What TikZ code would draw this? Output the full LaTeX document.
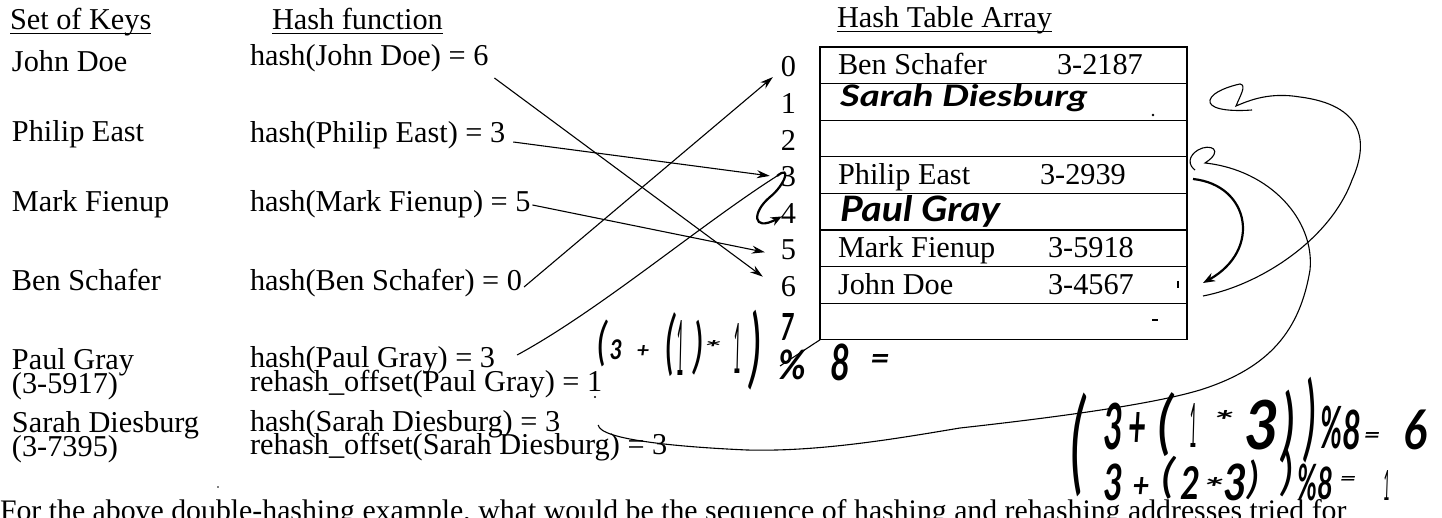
\documentclass[tikz,border=0pt]{standalone}
\usepackage{fontspec}
\setmainfont{Liberation Serif}
\newfontfamily\hand{Lato}
\usetikzlibrary{arrows.meta,calc}
\newcommand\fs{\fontsize{30.3}{32}\selectfont}
\newcommand\fsb{\fontsize{29.8}{32}\selectfont}
\newcommand\hg[3]{\resizebox*{#1}{#2}{\hand\bfseries\itshape #3}}
\newcommand\hgl[3]{\resizebox*{#1}{#2}{\hand\itshape #3}}
\newcommand\hw[3]{\resizebox{#1}{#2}{\hand\bfseries\itshape #3}}
\begin{document}
\begin{tikzpicture}[x=1pt,y=-1pt,
  txt/.style={inner sep=0pt, outer sep=0pt, anchor=base west, font=\fs},
  idx/.style={inner sep=0pt, outer sep=0pt, anchor=base east, font=\fs},
  hwn/.style={inner sep=0pt, outer sep=0pt, anchor=base west},
  hwc/.style={inner sep=0pt, outer sep=0pt, anchor=center},
  cell/.style={draw, line width=1.3pt, minimum width=367pt, minimum height=36.6pt, anchor=north west, inner sep=0pt, outer sep=0pt},
  arr/.style={line width=1.1pt, -{Stealth[length=13pt,width=8pt]}},
  pen/.style={line width=1.1pt},
  thickpen/.style={line width=2.2pt},
  uline/.style={line width=1.2pt}]
\useasboundingbox (0,0) rectangle (1442,518);
% headers
\node[txt] (hd1) at (10,30) {Set of Keys};
\node[txt] (hd2) at (272,30) {Hash function};
\node[txt] (hd3) at (837,28) {Hash Table Array};
\foreach \n in {hd1,hd2,hd3}
  \draw[uline] ([yshift=-3.5pt]\n.base west) -- ([yshift=-3.5pt]\n.base east);
% keys
\node[txt] (k1) at (12,72) {John Doe};
\node[txt] (k2) at (12,142) {Philip East};
\node[txt] (k3) at (12,212) {Mark Fienup};
\node[txt] (k4) at (12,291) {Ben Schafer};
\node[txt] (k5) at (12,369) {Paul Gray};
\node[txt] (k5b) at (12,393) {(3-5917)};
\node[txt] (k6) at (12,432) {Sarah Diesburg};
\node[txt] (k6b) at (12,456) {(3-7395)};
% hash functions
\node[txt] (h1) at (250,66) {hash(John Doe) = 6};
\node[txt] (h2) at (250,143) {hash(Philip East) = 3};
\node[txt] (h3) at (250,212) {hash(Mark Fienup) = 5};
\node[txt] (h4) at (250,291) {hash(Ben Schafer) = 0};
\node[txt] (h5) at (250,367) {hash(Paul Gray) = 3};
\node[txt] (h5b) at (250,391) {rehash\_offset(Paul Gray) = 1};
\node[txt] (h6) at (250,431) {hash(Sarah Diesburg) = 3};
\node[txt] (h6b) at (250,454) {rehash\_offset(Sarah Diesburg) = 3};
% table
\foreach \i/\t in {0/47,1/83.6,2/120.2,3/156.8,4/193.4,5/230,6/266.6,7/303.2}
  \node[cell] (r\i) at (820,\t) {};
\foreach \i/\b in {0/77,1/113.6,2/150.2,3/186.8,4/223.4,5/260,6/296.6}
  \node[idx] (i\i) at (796,\b) {\i};
\node[txt] (e0) at (838,75) {Ben Schafer};
\node[txt] (p0) at (1057,75) {3-2187};
\node[txt] (e3) at (838,184.8) {Philip East};
\node[txt] (p3) at (1040,184.8) {3-2939};
\node[txt] (e5) at (838,258) {Mark Fienup};
\node[txt] (p5) at (1048,258) {3-5918};
\node[txt] (e6) at (838,294.6) {John Doe};
\node[txt] (p6) at (1048,294.6) {3-4567};
\node[hwn] (e1) at (840,107) {\hw{247pt}{22pt}{Sarah Diesburg}};
\node[hwn] (e4) at (840,222) {\hw{160pt}{26pt}{Paul Gray}};
\node[hwc] (i7) at (787,327) {\hg{14pt}{27pt}{7}};
% small marks
\fill (1153,115) circle (1.3);
\draw[line width=1.2pt] (1178,281) -- (1178,288);
\draw[line width=1.2pt] (1152,320) -- (1158,320);
\fill (218,487) circle (0.9);
\fill (595,397) circle (1.1);
% arrows
\draw[arr] ([shift={(6,12)}]h1.base east) -- ([shift={(-18,-10)}]i6.west);
\draw[arr] ([shift={(8,-1)}]h2.base east) -- ([shift={(-11,-1)}]i3.west);
\draw[arr] ([shift={(2,-7)}]h3.base east) -- ([shift={(-16,2)}]i5.west);
\draw[arr] ([shift={(2,-4)}]h4.base east) -- ([shift={(-8,10)}]i0.west);
\coordinate (pk) at (777,176);
\draw[pen] ([shift={(22,-12)}]h5.base east) .. controls (600,310) and (700,225) .. (pk);
\draw[thickpen, -{Stealth[length=11pt,width=9pt]}] (pk) .. controls (792,164) and (785,185) .. (770,197) .. controls (752,212) and (752,232) .. ([shift={(1,3)}]i4.west);
% Sarah curves
\coordinate (hk3) at (1205,163);
\draw[pen] ([shift={(38,-6)}]h6.base east) .. controls (600,440) and (680,447) .. (747,450) .. controls (820,452) and (900,438) .. (960,428) .. controls (1050,418) and (1150,405) .. (1200,390) .. controls (1270,368) and (1300,330) .. (1310,270) .. controls (1315,220) and (1270,170) .. (hk3) .. controls (1225,150) and (1210,143) .. (1198,150) .. controls (1188,156) and (1188,165) .. (1195,170);
\coordinate (b3) at (1193,179);
\draw[thickpen, -{Stealth[length=12pt,width=9pt]}] (b3) .. controls (1250,185) and (1262,250) .. (1203,283);
\coordinate (c6) at (1203,296);
\draw[pen] (c6) .. controls (1260,285) and (1330,240) .. (1352,180) .. controls (1370,140) and (1362,105) .. (1300,97) .. controls (1270,92) and (1250,100) .. (1236,106) .. controls (1240,96) and (1247,85) .. (1240,84) .. controls (1230,86) and (1212,92) .. (1210,100) .. controls (1208,108) and (1225,112) .. (1252,110);
% formula 1
\node[hwc] (a1) at (602,343) {\hgl{10pt}{47pt}{(}};
\node[hwc] (a2) at (616,350) {\hg{13pt}{20pt}{3}};
\node[hwc] (a3) at (643,351) {\hg{13pt}{12pt}{+}};
\node[hwc] (a4) at (670,345) {\hgl{10pt}{64pt}{(}};
\node[hwc] (a5) at (680,348) {\hgl{8pt}{55pt}{1}};
\node[hwc] (a6) at (698,348) {\hgl{10pt}{55pt}{)}};
\node[hwc] (a7) at (712,347) {\hg{17pt}{14pt}{*}};
\node[hwc] (a8) at (737,348) {\hgl{8pt}{50pt}{1}};
\node[hwc] (a9) at (755,350) {\hgl{12pt}{80pt}{)}};
\node[hwc] (a10) at (792,365) {\hg{28pt}{30pt}{\%}};
\node[hwc] (a11) at (840,362) {\hg{20pt}{37pt}{8}};
\node[hwc] (a12) at (880,362) {\hg{20pt}{15pt}{=}};
\draw[pen] (780,366) -- (r7.south west);
% formula 2
\node[hwc] (b0) at (1078,445) {\hgl{15pt}{104pt}{(}};
\node[hwc] (b1) at (1113,427) {\hg{20pt}{47pt}{3}};
\node[hwc] (b2) at (1137,430) {\hg{18pt}{35pt}{+}};
\node[hwc] (b3g) at (1165,425) {\hgl{16pt}{64pt}{(}};
\node[hwc] (b4) at (1193,425) {\hgl{8pt}{44pt}{1}};
\node[hwc] (b5) at (1223,420) {\hg{20pt}{20pt}{*}};
\node[hwc] (b6) at (1262,425) {\hg{35pt}{50pt}{3}};
\node[hwc] (b7) at (1288,427) {\hgl{14pt}{73pt}{)}};
\node[hwc] (b8) at (1310,420) {\hgl{12pt}{86pt}{)}};
\node[hwc] (b9) at (1331,428) {\hg{22pt}{43pt}{\%}};
\node[hwc] (b10) at (1352,430) {\hg{19pt}{40pt}{8}};
\node[hwc] (b11) at (1372,437) {\hg{17pt}{10pt}{=}};
\node[hwc] (b12) at (1415,430) {\hg{24pt}{40pt}{6}};
\node[hwc] (c1) at (1113,482) {\hg{20pt}{37pt}{3}};
\node[hwc] (c2) at (1141,487) {\hg{17pt}{20pt}{+}};
\node[hwc] (c3) at (1168,478) {\hgl{14pt}{43pt}{(}};
\node[hwc] (c4) at (1190,483) {\hg{20pt}{33pt}{2}};
\node[hwc] (c5) at (1213,487) {\hg{20pt}{20pt}{*}};
\node[hwc] (c6g) at (1235,482) {\hg{24pt}{37pt}{3}};
\node[hwc] (c7) at (1253,480) {\hgl{12pt}{40pt}{)}};
\node[hwc] (c8) at (1287,473) {\hgl{12pt}{47pt}{)}};
\node[hwc] (c9) at (1307,482) {\hg{20pt}{37pt}{\%}};
\node[hwc] (c10) at (1325,483) {\hg{16pt}{33pt}{8}};
\node[hwc] (c11) at (1348,480) {\hg{17pt}{8pt}{=}};
\node[hwc] (c12) at (1387,485) {\hgl{7pt}{30pt}{1}};
% bottom text
\node[txt, font=\fsb] (q) at (0,520) {For the above double-hashing example, what would be the sequence of hashing and rehashing addresses tried for};
\end{tikzpicture}
\end{document}
